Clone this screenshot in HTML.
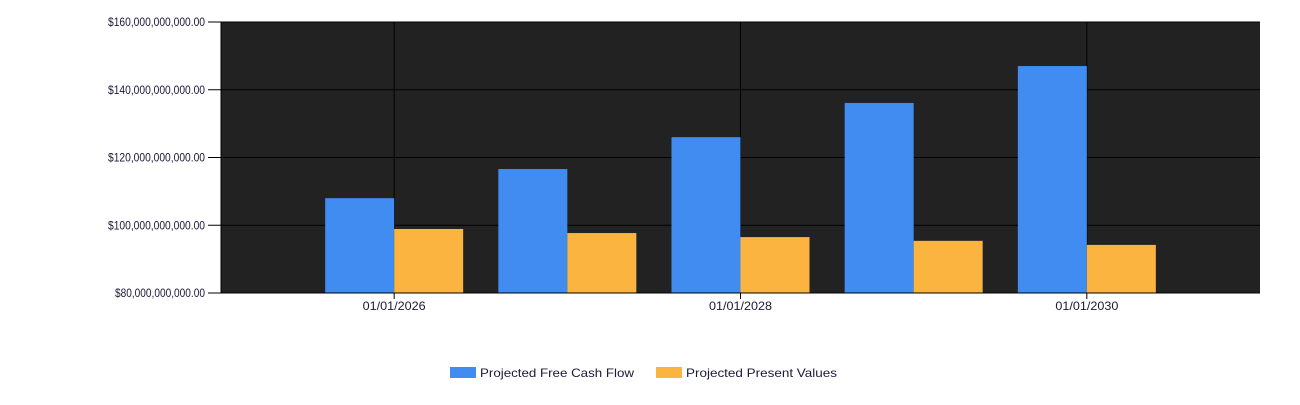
<!DOCTYPE html>
<html><head><meta charset="utf-8"><style>
body{margin:0;background:#fff;width:1300px;height:400px;overflow:hidden}
text{font-family:"Liberation Sans",sans-serif;font-size:12px;fill:#1a1a3a}
</style></head><body>
<svg id="chart" width="1300" height="400" xmlns="http://www.w3.org/2000/svg"></svg>
<script>
const categories=["2026","2027","2028","2029","2030"];
const fcf=[108.0,116.6,126.0,136.1,147.0];
const pv=[98.9,97.7,96.5,95.4,94.2];
const yTicks=[80,100,120,140,160];
const yTickLabels=["$80,000,000,000.00","$100,000,000,000.00","$120,000,000,000.00","$140,000,000,000.00","$160,000,000,000.00"];
const xTickIdx=[0,2,4];
const xTickLabels=["01/01/2026","01/01/2028","01/01/2030"];
const seriesNames=["Projected Free Cash Flow","Projected Present Values"];
const colors=["#418cf0","#fcb441"];
const NS="http://www.w3.org/2000/svg";
const svg=document.getElementById('chart');
const L=221,R=1260,T=22,B=293;
const step=(R-L)/(categories.length+1);
const bw=69;
const y=v=>B-(v-80)/80*(B-T);
const xc=i=>L+step*(i+1);
function mk(tag,attrs,parent){const e=document.createElementNS(NS,tag);for(const k in attrs)e.setAttribute(k,attrs[k]);(parent||svg).appendChild(e);return e;}
const bg=mk('rect',{x:L,y:T,width:R-L,height:B-T,fill:'#222222'});


yTicks.forEach((t,i)=>{
  const g=mk('line',{x1:208,x2:R,y1:y(t),y2:y(t),stroke:'#000','stroke-width':1});
  
  
  const len=yTickLabels[i].length>18?97:90;
  const tx=mk('text',{x:205,y:y(t)+4,'text-anchor':'end',textLength:len,lengthAdjust:'spacingAndGlyphs'});
  tx.textContent=yTickLabels[i];
  
  
});
xTickIdx.forEach((ci,i)=>{
  const g=mk('line',{x1:xc(ci),x2:xc(ci),y1:T,y2:B+6,stroke:'#000','stroke-width':1});
  
  
  const tx=mk('text',{x:xc(ci),y:B+17,'text-anchor':'middle',textLength:63,lengthAdjust:'spacingAndGlyphs'});
  tx.textContent=xTickLabels[i];
  
  
});
categories.forEach((c,i)=>{
  const b1=mk('rect',{x:xc(i)-bw,y:y(fcf[i]),width:bw,height:B-y(fcf[i]),fill:colors[0]});
  
  
  const b2=mk('rect',{x:xc(i),y:y(pv[i]),width:bw,height:B-y(pv[i]),fill:colors[1]});
  
  
});
const ax=mk('line',{x1:L,x2:L,y1:T,y2:B,stroke:'#000'});


const axx=mk('line',{x1:L,x2:R,y1:B,y2:B,stroke:'#000'});


const lx=[450,656];
const lw=[154,151];
seriesNames.forEach((n,i)=>{
  const s=mk('rect',{x:lx[i],y:367,width:26,height:11,fill:colors[i]});
  
  
  const t=mk('text',{x:lx[i]+30,y:377,textLength:lw[i],lengthAdjust:'spacingAndGlyphs'});
  t.textContent=n;
  
  
});
</script>
</body></html>
